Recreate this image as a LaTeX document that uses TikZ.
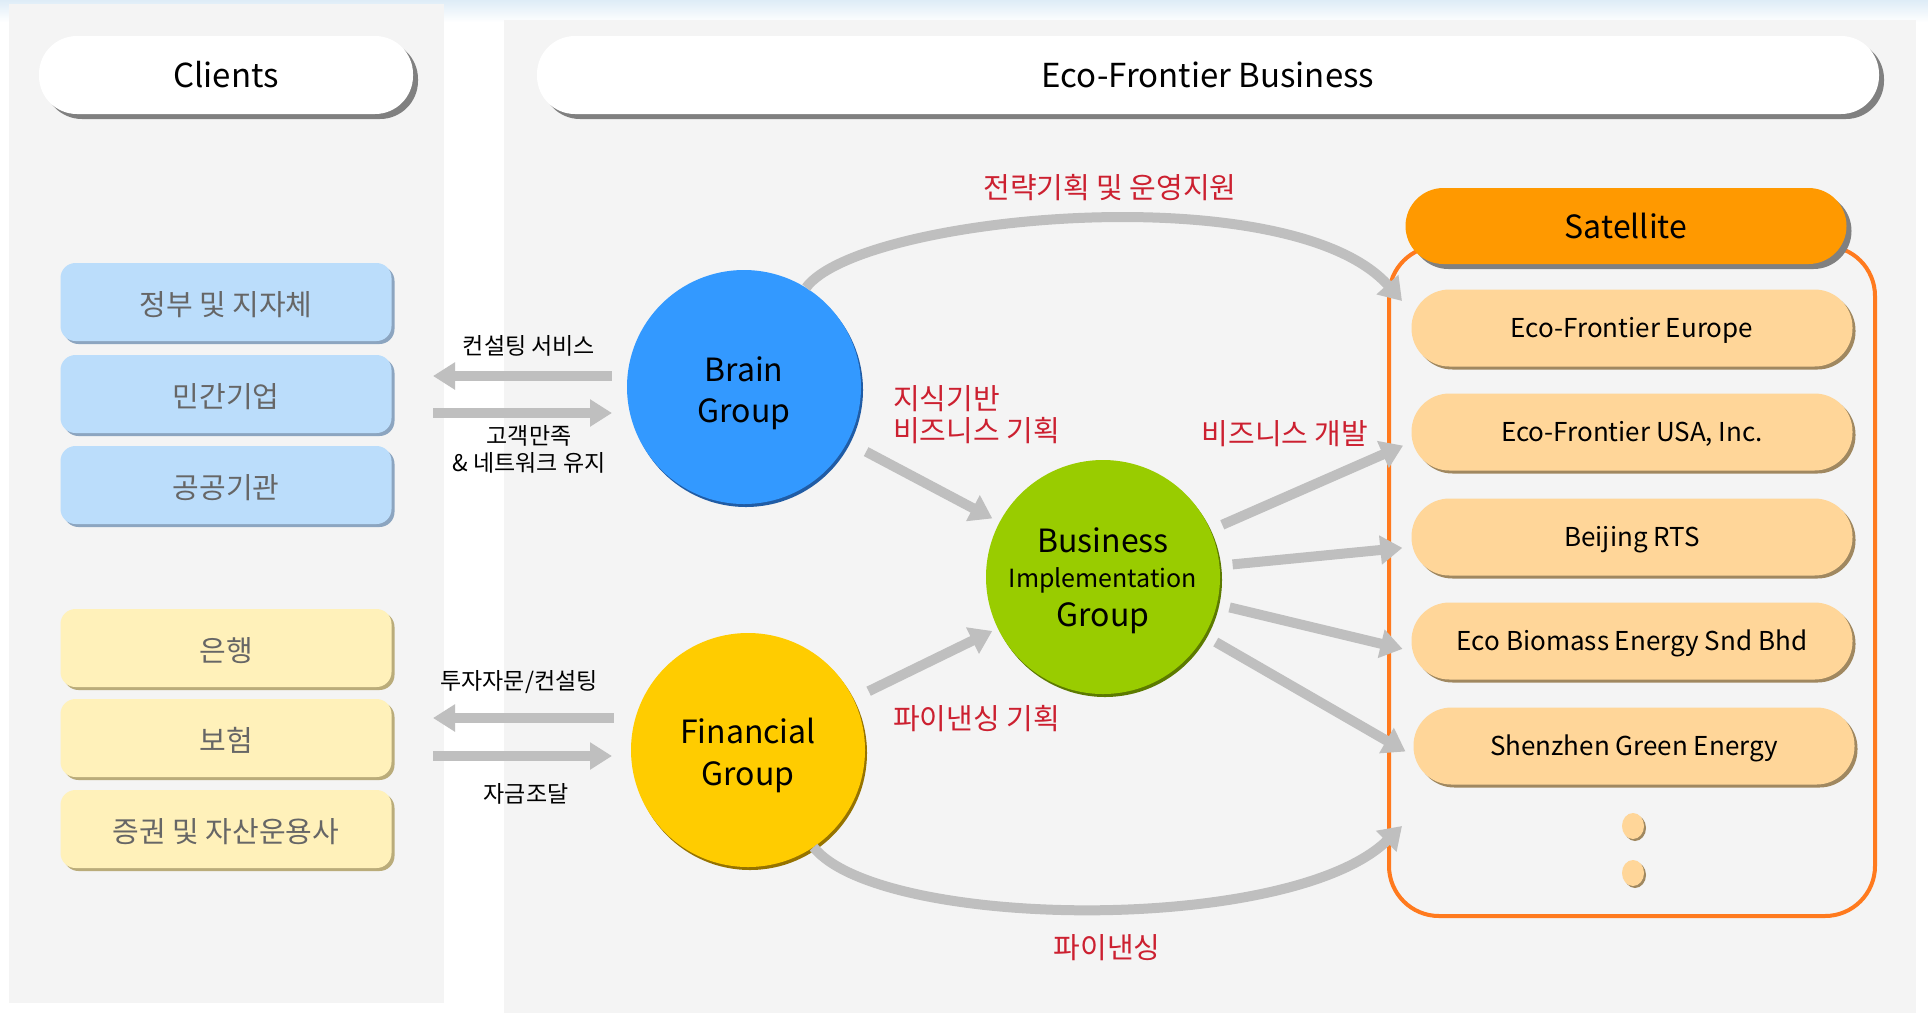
\documentclass[tikz,border=0pt]{standalone}
\usepackage{fontspec}
\setmainfont{Noto Sans CJK KR}
\usepackage{tikz}
\usetikzlibrary{arrows.meta,%
                shadows,%
                shapes.geometric}
\definecolor{panelgray}{RGB}{244,244,244}
\definecolor{skyblue}{RGB}{222,236,247}
\definecolor{headshadow}{RGB}{128,128,128}
\definecolor{publicblue}{RGB}{187,221,251}
\definecolor{publicshadow}{RGB}{140,165,192}
\definecolor{financeyellow}{RGB}{255,241,186}
\definecolor{financeshadow}{RGB}{186,172,122}
\definecolor{clienttext}{RGB}{102,102,102}
\definecolor{brainblue}{RGB}{51,153,255}
\definecolor{brainedge}{RGB}{32,92,165}
\definecolor{bizgreen}{RGB}{153,204,0}
\definecolor{bizedge}{RGB}{92,122,0}
\definecolor{fingold}{RGB}{255,204,0}
\definecolor{finedge}{RGB}{150,115,0}
\definecolor{satorange}{RGB}{255,153,0}
\definecolor{frameorange}{RGB}{255,122,30}
\definecolor{pillpeach}{RGB}{255,214,153}
\definecolor{pillshadow}{RGB}{160,136,96}
\definecolor{arrowgray}{RGB}{191,191,191}
\definecolor{labelred}{RGB}{204,32,48}

\begin{document}
\begin{tikzpicture}[x=1pt,y=-1pt]
  \tikzstyle{HeadPill}=[fill=white,rounded corners=38pt,minimum height=78pt,inner sep=0pt,
    font=\fontsize{33}{40}\selectfont,
    drop shadow={shadow xshift=5pt,shadow yshift=-5pt,fill=headshadow,opacity=1}]
  \tikzstyle{ClientBox}=[minimum width=331pt,minimum height=78pt,rounded corners=15pt,
    inner sep=0pt,text height=26pt,text depth=0pt,text=clienttext,
    font=\fontsize{29}{34}\selectfont]
  \tikzstyle{PublicBox}=[ClientBox,fill=publicblue,
    drop shadow={shadow xshift=3pt,shadow yshift=-3pt,fill=publicshadow,opacity=1}]
  \tikzstyle{FinanceBox}=[ClientBox,fill=financeyellow,
    drop shadow={shadow xshift=3pt,shadow yshift=-3pt,fill=financeshadow,opacity=1}]
  \tikzstyle{GroupCircle}=[circle,minimum size=234pt,inner sep=0pt]
  \tikzstyle{GroupText}=[inner sep=0pt,align=center,font=\fontsize{32}{41}\selectfont]
  \tikzstyle{SatFrame}=[draw=frameorange,line width=4pt,rounded corners=50pt,
    minimum width=486pt,minimum height=670pt]
  \tikzstyle{SatPill}=[fill=pillpeach,minimum width=441pt,minimum height=77pt,
    rounded corners=38pt,inner sep=0pt,text height=21pt,text depth=3pt,
    font=\fontsize{26}{30}\selectfont,
    drop shadow={shadow xshift=3pt,shadow yshift=-3pt,fill=pillshadow,opacity=1}]
  \tikzstyle{SatDot}=[ellipse,fill=pillpeach,minimum width=22pt,minimum height=26pt,inner sep=0pt,
    drop shadow={shadow xshift=2pt,shadow yshift=-2pt,fill=pillshadow,opacity=1}]
  \tikzstyle{FlowArrow}=[draw=arrowgray,line width=10pt,-{Triangle[length=22pt,width=28pt]}]
  \tikzstyle{SideArrow}=[FlowArrow,-{Triangle[length=22pt,width=26pt]}]
  \tikzstyle{RedLabel}=[text=labelred,inner sep=0pt,font=\fontsize{29}{32}\selectfont]
  \tikzstyle{FlowLabel}=[inner sep=0pt,align=center,font=\fontsize{23}{27}\selectfont]
  \useasboundingbox (0,0) rectangle (1928,1013);
  \fill[white] (0,0) rectangle (1928,1013);
  \shade[top color=skyblue,bottom color=white] (0,0) rectangle (1928,22);
  \fill[panelgray] (9,4) rectangle (444,1003);
  \fill[panelgray] (504,20) rectangle (1916,1013);
  % headers
  \node[HeadPill,minimum width=374pt] (clients) at (226,75) {Clients};
  \node[HeadPill,minimum width=1342pt] (business) at (1208,75) {Eco-Frontier Business};
  % clients
  \node[PublicBox] (gov) at (226,302) {정부 및 지자체};
  \node[PublicBox] (private) at (226,394) {민간기업};
  \node[PublicBox] (public) at (226,485) {공공기관};
  \node[FinanceBox] (bank) at (226,648) {은행};
  \node[FinanceBox] (insurance) at (226,738) {보험};
  \node[FinanceBox] (securities) at (226,829) {증권 및 자산운용사};
  % groups
  \node[GroupCircle,fill=brainblue,
    drop shadow={shadow xshift=2pt,shadow yshift=-3pt,fill=brainedge,opacity=1}]
    (brain) at (744,387) {};
  \node[GroupCircle,fill=bizgreen,
    drop shadow={shadow xshift=2pt,shadow yshift=-3pt,fill=bizedge,opacity=1}]
    (big) at (1103,577) {};
  \node[GroupCircle,fill=fingold,
    drop shadow={shadow xshift=2pt,shadow yshift=-3pt,fill=finedge,opacity=1}]
    (fin) at (748,750) {};
  \node[GroupText] (brainName) at (744,393) {Brain\\Group};
  \node[GroupText,font=\fontsize{32}{36.5}\selectfont] (bigName) at (1103,581)
    {Business\\[-2pt]{\fontsize{25}{30}\selectfont Implementation}\\[3pt]Group};
  \node[GroupText,font=\fontsize{32}{42}\selectfont] (finName) at (748,755) {Financial\\Group};
  % satellites
  \node[SatFrame] (frame) at (1632,581) {};
  \node[HeadPill,fill=satorange,minimum width=441pt,minimum height=76pt,
    font=\fontsize{32}{40}\selectfont] (satellite) at (1626,226) {Satellite};
  \node[SatPill] (europe) at (1632,328) {Eco-Frontier Europe};
  \node[SatPill] (usa) at (1632,432) {Eco-Frontier USA, Inc.};
  \node[SatPill] (beijing) at (1632,537) {Beijing RTS};
  \node[SatPill] (biomass) at (1632,641) {Eco Biomass Energy Snd Bhd};
  \node[SatPill] (shenzhen) at (1634,746) {Shenzhen Green Energy};
  \node[SatDot] (moreA) at (1633,826) {};
  \node[SatDot] (moreB) at (1633,873) {};
  \coordinate (topIn) at (1402,301);
  \coordinate (botIn) at (1402,826);
  \coordinate (consultOut) at (433,376);
  \coordinate (satisfyIn) at (612,413);
  \coordinate (adviceOut) at (433,718);
  \coordinate (fundIn) at (612,756);
  % connectors
  \draw[FlowArrow] (brain.58) .. controls (860,215) and (1290,175) .. (topIn);
  \draw[FlowArrow] (fin.-56) .. controls (880,930) and (1290,935) .. (botIn);
  \draw[FlowArrow,shorten <=21pt,shorten >=8pt] (brain) -- (big);
  \draw[FlowArrow,shorten <=17pt,shorten >=6pt] (fin) -- (big);
  \draw[FlowArrow,shorten <=13pt,shorten >=9pt] (big) -- ([yshift=-10pt]usa.west);
  \draw[FlowArrow,shorten <=13pt,shorten >=9pt] (big) -- ([yshift=-10pt]beijing.west);
  \draw[FlowArrow,shorten <=13pt,shorten >=9pt] (big) -- ([yshift=-10pt]biomass.west);
  \draw[FlowArrow,shorten <=13pt,shorten >=9pt] (big) -- ([yshift=-10pt]shenzhen.west);
  \draw[SideArrow] ([shift={(-15,-11)}]brain.west) -- (consultOut);
  \draw[SideArrow] (consultOut |- satisfyIn) -- (satisfyIn);
  \draw[SideArrow] ([shift={(-17,-32)}]fin.west) -- (adviceOut);
  \draw[SideArrow] (adviceOut |- fundIn) -- (fundIn);
  % labels
  \node[RedLabel] (strategy) at (1110,188) {전략기획 및 운영지원};
  \node[RedLabel,anchor=west,align=left] (knowledge) at (893,415) {지식기반\\비즈니스 기획};
  \node[RedLabel] (develop) at (1285,434) {비즈니스 개발};
  \node[RedLabel,anchor=west] (finplan) at (893,719) {파이낸싱 기획};
  \node[RedLabel] (financing) at (1107,948) {파이낸싱};
  \node[FlowLabel] (consulting) at (529,346) {컨설팅 서비스};
  \node[FlowLabel] (satisfaction) at (529,449) {고객만족\\\& 네트워크 유지};
  \node[FlowLabel] (advisory) at (519,682) {투자자문/컨설팅};
  \node[FlowLabel] (funding) at (526,794) {자금조달};
\end{tikzpicture}
\end{document}
